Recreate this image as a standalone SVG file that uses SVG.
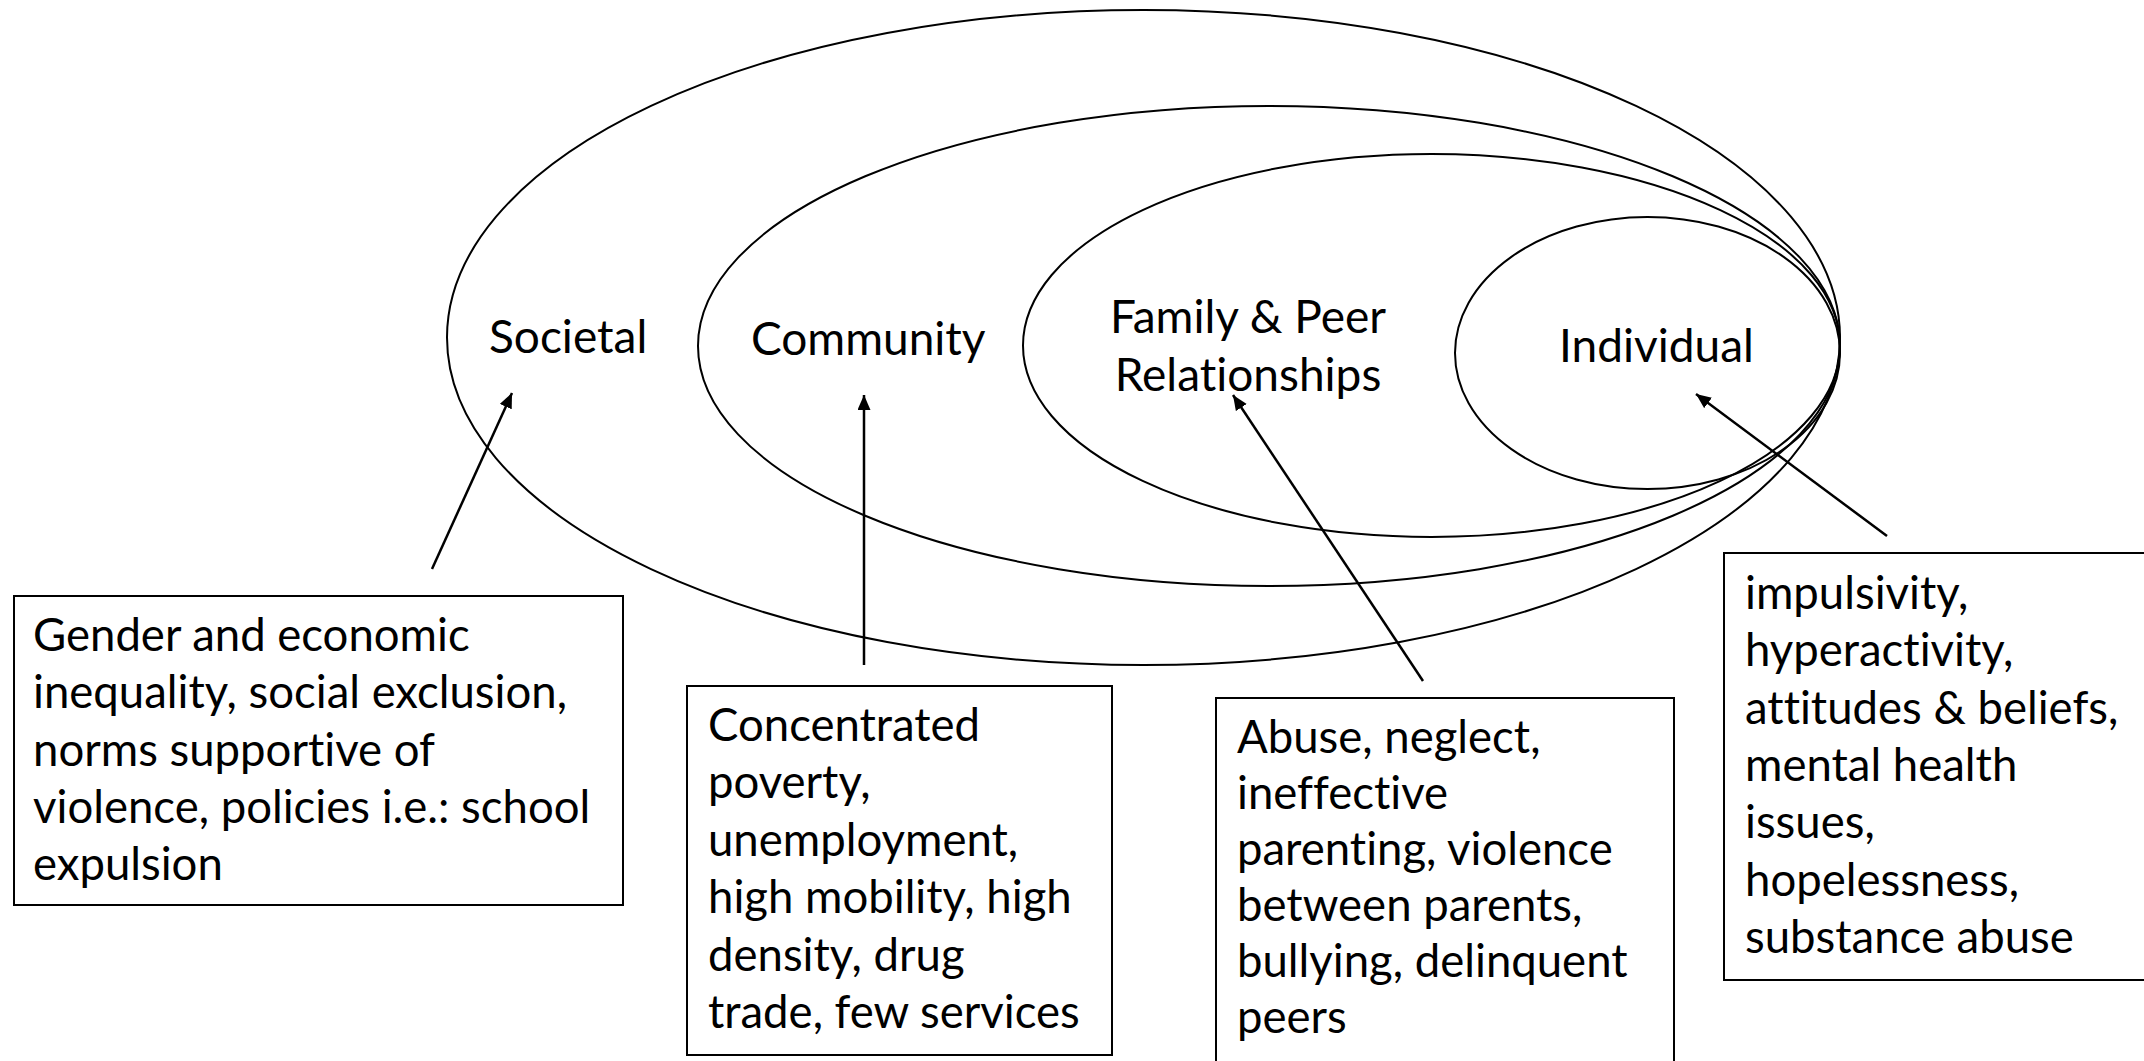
<svg xmlns="http://www.w3.org/2000/svg" width="2144" height="1061" viewBox="0 0 2144 1061">
<style>
.ring{fill:none;stroke:#000;stroke-width:2}
.box{fill:#fff;stroke:#000;stroke-width:2}
.lbl{font-family:Lato,"Open Sans",sans-serif;font-size:46px;fill:#000;font-variant-ligatures:none}
.txt{font-family:Lato,"Open Sans",sans-serif;font-size:45.5px;fill:#000;font-variant-ligatures:none}
.conn{stroke:#000;stroke-width:2.5;fill:none;marker-end:url(#ah)}
</style>
<defs>
<marker id="ah" markerUnits="userSpaceOnUse" markerWidth="16" markerHeight="14" refX="15" refY="6.5" orient="auto">
<path d="M0,0 L15,6.5 L0,13 z" fill="#000"/>
</marker>
</defs>
<rect width="2144" height="1061" fill="#fff"/>
<g id="societal">
<ellipse class="ring" cx="1143.5" cy="337.5" rx="696.5" ry="327.5"/>
<text class="lbl" x="489" y="353">Societal</text>
</g>
<g id="community">
<ellipse class="ring" cx="1269" cy="346" rx="571" ry="240"/>
<text class="lbl" x="751" y="355">Community</text>
</g>
<g id="family">
<ellipse class="ring" cx="1431.5" cy="345.5" rx="408.5" ry="191.5"/>
<text class="lbl" x="1248" y="333" text-anchor="middle">Family &amp; Peer</text>
<text class="lbl" x="1248" y="391" text-anchor="middle">Relationships</text>
</g>
<g id="individual">
<ellipse class="ring" cx="1647.5" cy="353" rx="192.5" ry="136"/>
<text class="lbl" x="1559" y="362">Individual</text>
</g>
<g id="connectors">
<line class="conn" x1="432" y1="569" x2="512" y2="393"/>
<line class="conn" x1="864" y1="665" x2="864" y2="395"/>
<line class="conn" x1="1423" y1="681" x2="1233" y2="395"/>
<line class="conn" x1="1887" y1="536" x2="1696" y2="394"/>
</g>
<g id="box-societal">
<rect class="box" x="14" y="596" width="609" height="309"/>
<text class="txt" x="33" y="651">Gender and economic</text>
<text class="txt" x="33" y="708">inequality, social exclusion,</text>
<text class="txt" x="33" y="766">norms supportive of</text>
<text class="txt" x="33" y="823">violence, policies i.e.: school</text>
<text class="txt" x="33" y="880">expulsion</text>
</g>
<g id="box-community">
<rect class="box" x="687" y="686" width="425" height="369"/>
<text class="txt" x="708" y="741">Concentrated</text>
<text class="txt" x="708" y="798">poverty,</text>
<text class="txt" x="708" y="856">unemployment,</text>
<text class="txt" x="708" y="913">high mobility, high</text>
<text class="txt" x="708" y="971">density, drug</text>
<text class="txt" x="708" y="1028">trade, few services</text>
</g>
<g id="box-family">
<rect class="box" x="1216" y="698" width="458" height="380"/>
<text class="txt" x="1237" y="753">Abuse, neglect,</text>
<text class="txt" x="1237" y="809">ineffective</text>
<text class="txt" x="1237" y="865">parenting, violence</text>
<text class="txt" x="1237" y="921">between parents,</text>
<text class="txt" x="1237" y="977">bullying, delinquent</text>
<text class="txt" x="1237" y="1033">peers</text>
</g>
<g id="box-individual">
<rect class="box" x="1724" y="553" width="440" height="427"/>
<text class="txt" x="1745" y="609">impulsivity,</text>
<text class="txt" x="1745" y="666">hyperactivity,</text>
<text class="txt" x="1745" y="724">attitudes &amp; beliefs,</text>
<text class="txt" x="1745" y="781">mental health</text>
<text class="txt" x="1745" y="838">issues,</text>
<text class="txt" x="1745" y="896">hopelessness,</text>
<text class="txt" x="1745" y="953">substance abuse</text>
</g>
</svg>
